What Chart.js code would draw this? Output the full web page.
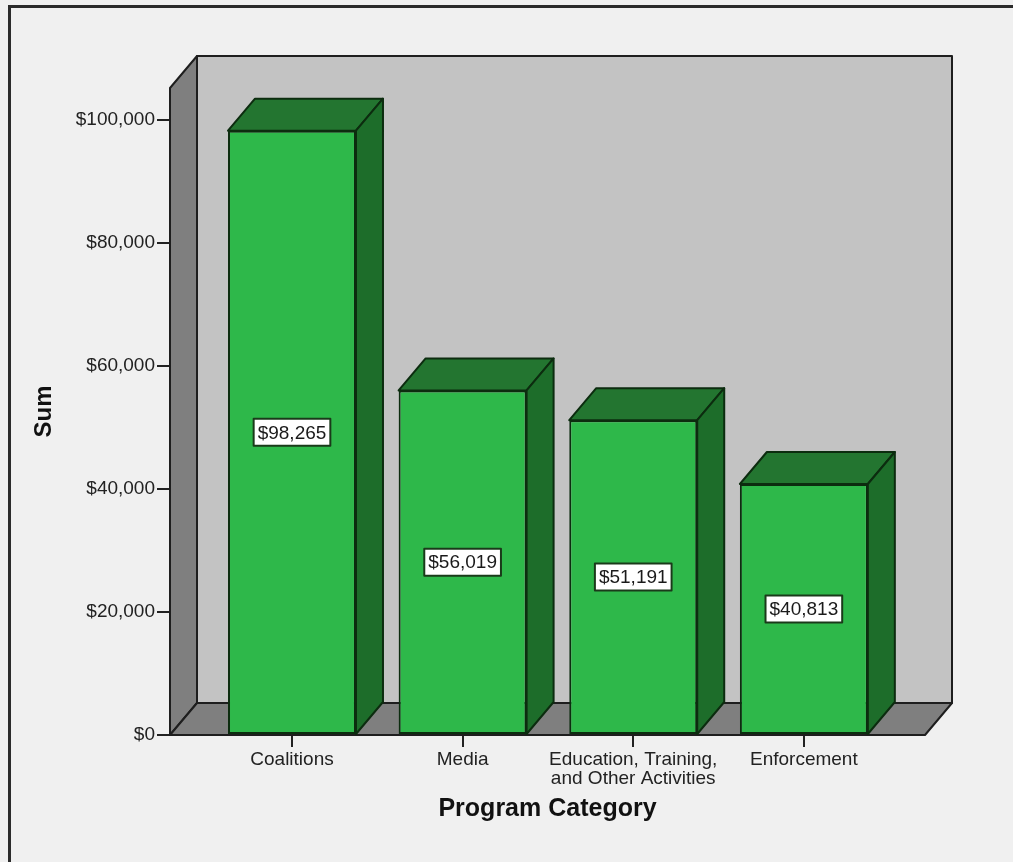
<!DOCTYPE html>
<html>
<head>
<meta charset="utf-8">
<script src="https://cdn.jsdelivr.net/npm/chart.js@4"></script>
<style>
html, body { margin: 0; padding: 0; background: #f0f0f0; }
#wrap { width: 1013px; height: 862px; }
</style>
</head>
<body>
<div id="wrap"><canvas id="grafica" width="1013" height="862"></canvas></div>
<script>
// datos
var categorias = ['Coalitions', 'Media', ['Education, Training,', 'and Other Activities'], 'Enforcement'];
var sumas = [98265, 56019, 51191, 40813];
var ticksY = [0, 20000, 40000, 60000, 80000, 100000];
var posX = [0, 1, 2, 3];

var fuente = 'Arial, "Liberation Sans", sans-serif';
var prof = { dx: 27, dy: -32 }; // profundidad del efecto 3D

function dinero(v) {
  return '$' + Number(v).toLocaleString('en-US');
}

function poligono(ctx, pts, relleno, borde, ancho) {
  ctx.beginPath();
  ctx.moveTo(pts[0][0], pts[0][1]);
  for (var i = 1; i < pts.length; i++) ctx.lineTo(pts[i][0], pts[i][1]);
  ctx.closePath();
  ctx.fillStyle = relleno;
  ctx.fill();
  ctx.lineJoin = 'round';
  ctx.strokeStyle = borde;
  ctx.lineWidth = ancho;
  ctx.stroke();
}

const caja3d = {
  id: 'caja3d',
  beforeDraw(chart) {
    const ctx = chart.ctx;
    ctx.save();
    ctx.fillStyle = '#f0f0f0';
    ctx.fillRect(0, 0, chart.width, chart.height);
    // marco exterior
    ctx.strokeStyle = '#2b2b2b';
    ctx.lineWidth = 3;
    ctx.beginPath();
    ctx.moveTo(9.5, chart.height + 2);
    ctx.lineTo(9.5, 6.5);
    ctx.lineTo(chart.width + 2, 6.5);
    ctx.stroke();
    ctx.restore();
  },
  beforeDatasetsDraw(chart) {
    const ctx = chart.ctx, a = chart.chartArea;
    const dx = prof.dx, dy = prof.dy;
    ctx.save();
    // pared del fondo
    poligono(ctx, [[a.left + dx, a.top + dy], [a.right + dx, a.top + dy], [a.right + dx, a.bottom + dy], [a.left + dx, a.bottom + dy]], '#c3c3c3', '#1e1e1e', 2);
    // pared izquierda
    poligono(ctx, [[a.left, a.top], [a.left + dx, a.top + dy], [a.left + dx, a.bottom + dy], [a.left, a.bottom]], '#7f7f7f', '#1e1e1e', 2);
    // piso
    poligono(ctx, [[a.left, a.bottom], [a.left + dx, a.bottom + dy], [a.right + dx, a.bottom + dy], [a.right, a.bottom]], '#7f7f7f', '#1e1e1e', 2);
    ctx.restore();
  },
  afterDatasetsDraw(chart) {
    const ctx = chart.ctx;
    const dx = prof.dx, dy = prof.dy;
    const meta = chart.getDatasetMeta(0);
    ctx.save();
    meta.data.forEach(function (bar, i) {
      const p = bar.getProps(['x', 'y', 'base', 'width'], true);
      const l = p.x - p.width / 2, r = p.x + p.width / 2;
      // cara superior
      poligono(ctx, [[l, p.y], [l + dx, p.y + dy], [r + dx, p.y + dy], [r, p.y]], '#237530', '#0c2c0f', 2);
      // cara lateral
      poligono(ctx, [[r, p.y], [r + dx, p.y + dy], [r + dx, p.base + dy], [r, p.base]], '#1d6d2a', '#0c2c0f', 2);
    });
    // etiquetas de valor
    ctx.font = '19px ' + fuente;
    ctx.textAlign = 'center';
    ctx.textBaseline = 'middle';
    meta.data.forEach(function (bar, i) {
      const p = bar.getProps(['x', 'y', 'base'], true);
      const txt = dinero(sumas[i]);
      const w = ctx.measureText(txt).width + 8;
      const h = 27;
      const cy = (p.y + p.base) / 2;
      ctx.fillStyle = '#ffffff';
      ctx.fillRect(p.x - w / 2, cy - h / 2, w, h);
      ctx.strokeStyle = '#1a3a1a';
      ctx.lineWidth = 2;
      ctx.strokeRect(p.x - w / 2, cy - h / 2, w, h);
      ctx.fillStyle = '#1a1a1a';
      ctx.fillText(txt, p.x, cy + 1);
    });
    ctx.restore();
  }
};

new Chart(document.getElementById('grafica'), {
  type: 'bar',
  data: {
    datasets: [{
      label: 'Sum',
      data: sumas.map(function (v, i) { return { x: posX[i], y: v }; }),
      backgroundColor: '#2eb84a',
      borderColor: '#0c2c0f',
      borderWidth: 2,
      borderSkipped: false,
      categoryPercentage: 1,
      barPercentage: 0.75
    }]
  },
  options: {
    responsive: false,
    animation: false,
    layout: { padding: { left: 12, top: 88, right: 88, bottom: 0 } },
    plugins: {
      legend: { display: false },
      tooltip: { enabled: false }
    },
    scales: {
      x: {
        type: 'linear',
        offset: false,
        min: -0.715,
        max: 3.71,
        afterBuildTicks: function (s) { s.ticks = posX.map(function (v) { return { value: v }; }); },
        afterFit: function (s) { s.height = 127; },
        grid: { offset: false, drawOnChartArea: false, tickLength: 12, color: '#222', lineWidth: 2 },
        border: { display: false },
        ticks: {
          callback: function (v) { return categorias[v]; },
          font: { family: fuente, size: 19, lineHeight: 1.0 },
          color: '#222',
          padding: 3,
          maxRotation: 0,
          autoSkip: false
        },
        title: {
          display: true,
          text: 'Program Category',
          font: { family: fuente, size: 25, weight: 'bold' },
          color: '#111',
          padding: { top: 0, bottom: 38 }
        }
      },
      y: {
        min: 0,
        max: 105200,
        afterBuildTicks: function (s) { s.ticks = ticksY.map(function (v) { return { value: v }; }); },
        afterFit: function (s) { s.width = 158; },
        grid: { drawOnChartArea: false, tickLength: 13, color: '#222', lineWidth: 2 },
        border: { display: false },
        ticks: {
          callback: function (v) { return dinero(v); },
          font: { family: fuente, size: 19 },
          color: '#222',
          padding: 2
        },
        title: {
          display: true,
          text: 'Sum',
          font: { family: fuente, size: 24, weight: 'bold' },
          color: '#111',
          padding: { top: 18, bottom: 0 }
        }
      }
    }
  },
  plugins: [caja3d]
});
</script>
</body>
</html>
